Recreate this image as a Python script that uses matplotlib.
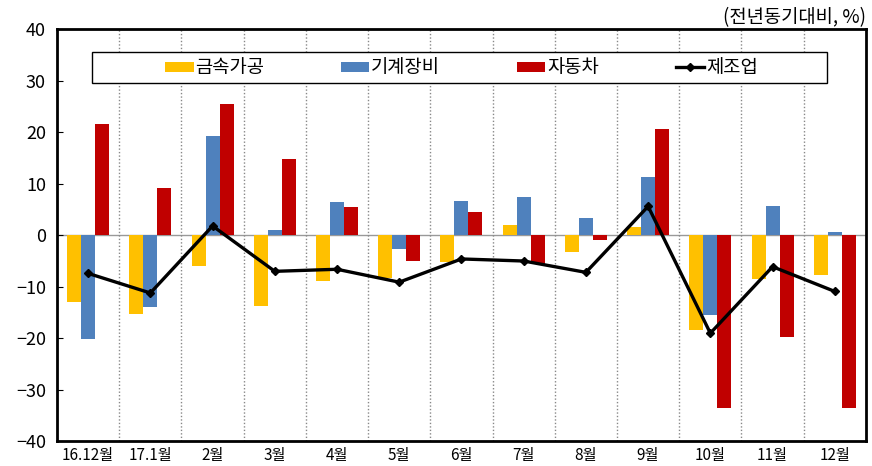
import numpy as np
import matplotlib.pyplot as plt
from matplotlib.patches import Rectangle

plt.rcParams['font.family'] = ['Noto Sans CJK KR', 'DejaVu Sans']

# Data (YoY, %)
months = ['16.12월', '17.1월', '2월', '3월', '4월', '5월', '6월',
          '7월', '8월', '9월', '10월', '11월', '12월']
metal = [-13.0, -15.2, -6.0, -13.8, -8.8, -8.3, -5.2, 1.9, -3.2, 1.6, -18.4, -8.5, -7.7]
machine = [-20.1, -14.0, 19.2, 1.0, 6.4, -2.6, 6.7, 7.5, 3.3, 11.2, -15.5, 5.6, 0.6]
auto = [21.5, 9.1, 25.4, 14.8, 5.4, -5.0, 4.5, -5.5, -0.9, 20.6, -33.5, -19.8, -33.6]
manuf = [-7.4, -11.2, 1.8, -7.0, -6.6, -9.1, -4.6, -5.0, -7.2, 5.6, -19.0, -6.1, -10.9]

YELLOW = '#FFC000'
BLUE = '#4F81BD'
RED = '#C00000'

fig = plt.figure(figsize=(8.72, 4.66), dpi=100)
ax = fig.add_axes([0.0654, 0.0526, 0.9276, 0.8852])

x = np.arange(len(months))
w = 0.225
b1 = ax.bar(x - w, metal, w, color=YELLOW, label='금속가공', zorder=2)
b2 = ax.bar(x, machine, w, color=BLUE, label='기계장비', zorder=2)
b3 = ax.bar(x + w, auto, w, color=RED, label='자동차', zorder=2)
l1, = ax.plot(x, manuf, color='black', lw=2.4, marker='D', ms=4.5,
              label='제조업', zorder=3)

# zero line and dotted group dividers
ax.axhline(0, color='#999999', lw=1, zorder=1)
for d in np.arange(0.5, len(months) - 1, 1):
    ax.axvline(d, color='#888888', lw=1, ls=(0, (1, 1.5)), zorder=1)

ax.set_xlim(-0.5, len(months) - 0.5)
ax.set_ylim(-40, 40)
ax.set_yticks(range(-40, 41, 10))
ax.set_yticklabels([f'{v}' if v >= 0 else f'\u2212{-v}' for v in range(-40, 41, 10)])
ax.set_xticks(x)
ax.set_xticklabels(months)
ax.tick_params(axis='x', length=0, pad=4, labelsize=11)
ax.tick_params(axis='y', direction='in', length=4, pad=8, labelsize=13)
for s in ax.spines.values():
    s.set_linewidth(2)
    s.set_color('black')

# legend box
ax.add_patch(Rectangle((0.043, 0.869), 0.909, 0.075, transform=ax.transAxes,
                       facecolor='white', edgecolor='black', lw=1, zorder=4))
leg = ax.legend([b1, b2, b3, l1], ['금속가공', '기계장비', '자동차', '제조업'],
                loc='center', bbox_to_anchor=(0.50, 0.906), ncol=4, frameon=False,
                fontsize=13.5, handlelength=1.5, handletextpad=0.1,
                columnspacing=4.1, handleheight=0.45)
leg.set_zorder(5)

fig.text(0.993, 0.962, '(전년동기대비, %)', ha='right', va='center', fontsize=13.5)

fig.savefig('out.png', dpi=100)
